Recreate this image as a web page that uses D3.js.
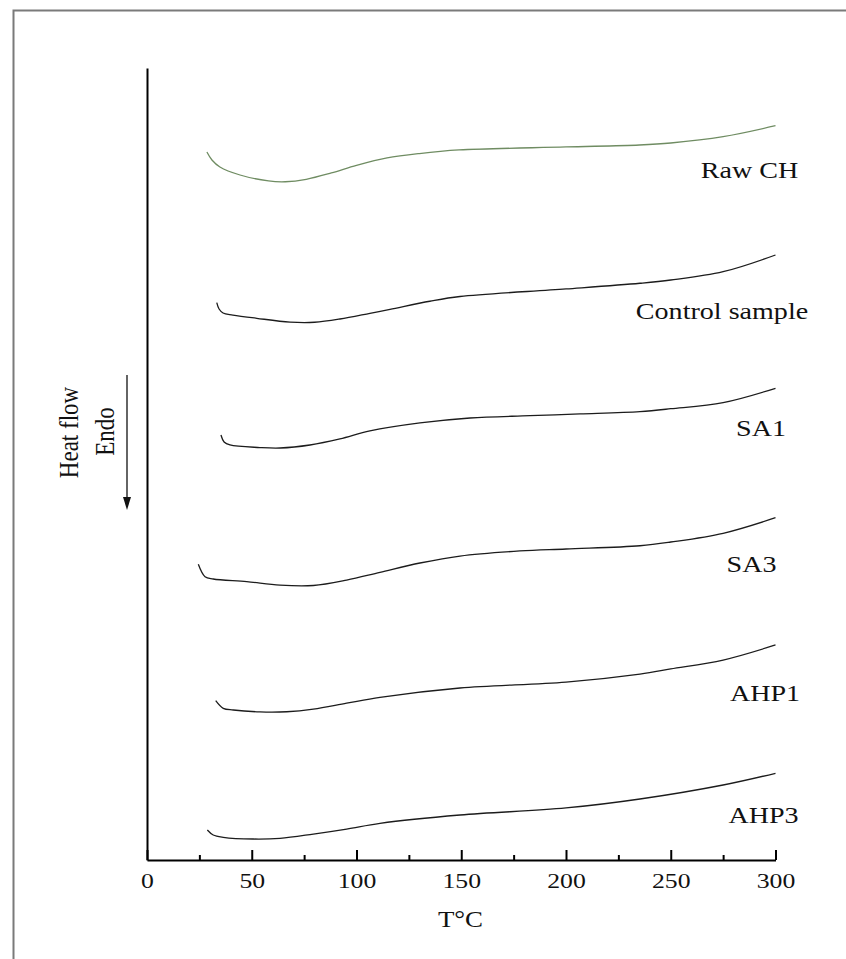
<!DOCTYPE html>
<html>
<head>
<meta charset="utf-8">
<script src="https://cdn.jsdelivr.net/npm/d3@7"></script>
<style>
  html, body { margin: 0; padding: 0; background: #fff; }
  svg { display: block; }
  text { font-family: "Liberation Serif", "Times New Roman", serif; fill: #111; }
</style>
</head>
<body>
<svg id="chart" width="846" height="959"></svg>
<script>
// ---------- data (temperature in °C, heat flow in arbitrary stacked units) ----------
const seriesNames = ["Raw CH", "Control sample", "SA1", "SA3", "AHP1", "AHP3"];

const rawCH_T = [28.6, 31, 34.8, 44.4, 58, 66, 76, 88, 100, 114.6, 130, 149, 200, 235, 250, 275, 300];
const rawCH_V = [89.39, 88.38, 87.50, 86.49, 85.74, 85.64, 85.95, 86.75, 87.70, 88.64, 89.20, 89.65, 90.03, 90.28, 90.53, 91.33, 92.71];

const control_T = [33.3, 34.4, 36.3, 41, 52.4, 68.3, 80, 92.1, 106.4, 116, 135, 149.4, 200, 235.3, 250, 275, 300];
const control_V = [70.37, 69.57, 69.07, 68.81, 68.40, 67.92, 67.90, 68.31, 69.03, 69.53, 70.55, 71.15, 72.10, 72.82, 73.23, 74.28, 76.39];

const sa1_T = [35.3, 36.8, 39.6, 53.9, 63.5, 77.8, 92.1, 106.4, 130.3, 154.2, 182.8, 206.7, 235.3, 250, 275, 300];
const sa1_V = [53.66, 52.78, 52.40, 52.08, 52.02, 52.40, 53.16, 54.17, 55.18, 55.81, 56.10, 56.32, 56.62, 56.98, 57.75, 59.56];

const sa3_T = [24.5, 27.7, 31.6, 47.6, 63.5, 79.4, 95.3, 111.2, 130.3, 149.4, 178, 200, 235.3, 250, 275, 300];
const sa3_V = [37.34, 35.77, 35.48, 35.14, 34.70, 34.66, 35.35, 36.33, 37.50, 38.38, 39.02, 39.27, 39.68, 40.15, 41.25, 43.22];

const ahp1_T = [32.8, 36.4, 41.2, 53.9, 66.7, 79.4, 95.3, 111.2, 149.4, 200, 235.3, 250, 275, 300];
const ahp1_V = [20.11, 19.15, 18.94, 18.70, 18.72, 19.05, 19.80, 20.54, 21.72, 22.47, 23.48, 24.12, 25.25, 27.15];

const ahp3_T = [28.8, 31.6, 36.4, 50.7, 63.5, 79.4, 95.3, 111.2, 149.4, 200, 235.3, 275, 300];
const ahp3_V = [3.79, 3.16, 2.87, 2.65, 2.74, 3.28, 3.91, 4.63, 5.68, 6.57, 7.70, 9.47, 10.95];

const xMajorTicks = [0, 50, 100, 150, 200, 250, 300];
const xMinorTicks = [25, 75, 125, 175, 225, 275];
const xTitle = "T°C";
const yTitle1 = "Heat flow";
const yTitle2 = "Endo";

// ---------- layout ----------
const svg = d3.select("#chart");
const plotLeft = 147, plotRight = 775.5, plotTop = 68, plotBottom = 860;
const SX = 1.17; // horizontal stretch of the original typography

const x = d3.scaleLinear().domain([0, 300]).range([plotLeft, plotRight]);
const y = d3.scaleLinear().domain([0, 100]).range([plotBottom, plotTop]);

const series = [
  { name: seriesNames[0], T: rawCH_T, V: rawCH_V, color: "#6f8c62", lx: 749.5, ly: 177.7 },
  { name: seriesNames[1], T: control_T, V: control_V, color: "#1c1c1c", lx: 722, ly: 319 },
  { name: seriesNames[2], T: sa1_T, V: sa1_V, color: "#1c1c1c", lx: 761, ly: 436 },
  { name: seriesNames[3], T: sa3_T, V: sa3_V, color: "#1c1c1c", lx: 751.5, ly: 571.7 },
  { name: seriesNames[4], T: ahp1_T, V: ahp1_V, color: "#1c1c1c", lx: 765, ly: 701 },
  { name: seriesNames[5], T: ahp3_T, V: ahp3_V, color: "#1c1c1c", lx: 763.5, ly: 823.3 }
];

// outer frame (only top and left edges visible)
svg.append("rect")
  .attr("x", 13.5).attr("y", 10.5)
  .attr("width", 1000).attr("height", 1000)
  .attr("fill", "none").attr("stroke", "#7a7a7a").attr("stroke-width", 2);

// curves
const line = d3.line()
  .x(d => x(d[0])).y(d => y(d[1]))
  .curve(d3.curveCatmullRom.alpha(0.5));

svg.append("g").selectAll("path")
  .data(series)
  .join("path")
  .attr("d", s => line(s.T.map((t, i) => [t, s.V[i]])))
  .attr("fill", "none")
  .attr("stroke", s => s.color)
  .attr("stroke-width", 1.3);

// curve labels
svg.append("g").selectAll("text")
  .data(series)
  .join("text")
  .attr("transform", s => `translate(${s.lx},${s.ly}) scale(${SX},1)`)
  .attr("text-anchor", "middle")
  .attr("font-size", 24)
  .text(s => s.name);

// x axis (ticks pointing inward)
const xAxis = svg.append("g").attr("transform", `translate(0,${plotBottom})`)
  .call(d3.axisBottom(x).tickValues(xMajorTicks).tickSizeInner(-10).tickSizeOuter(0).tickPadding(12.4));
xAxis.select(".domain").attr("stroke", "#000").attr("stroke-width", 2);
xAxis.selectAll(".tick line").attr("stroke", "#000").attr("stroke-width", 2);
xAxis.selectAll(".tick text")
  .attr("font-size", 22)
  .attr("font-family", "Liberation Serif, Times New Roman, serif")
  .attr("fill", "#111")
  .attr("transform", `scale(${SX},1)`);

const xMinor = svg.append("g").attr("transform", `translate(0,${plotBottom})`)
  .call(d3.axisBottom(x).tickValues(xMinorTicks).tickSizeInner(-5).tickSizeOuter(0).tickFormat(""));
xMinor.select(".domain").remove();
xMinor.selectAll(".tick line").attr("stroke", "#000").attr("stroke-width", 2);

// y axis (no ticks)
const yAxis = svg.append("g").attr("transform", `translate(${plotLeft},0)`)
  .call(d3.axisLeft(y).tickValues([]).tickSizeOuter(0));
yAxis.select(".domain").attr("stroke", "#000").attr("stroke-width", 2);

// x title
svg.append("text")
  .attr("transform", `translate(460.5,927) scale(${SX},1)`)
  .attr("text-anchor", "middle")
  .attr("font-size", 23)
  .text(xTitle);

// y titles (rotated)
svg.append("text")
  .attr("transform", `translate(78,432.5) scale(${SX},1) rotate(-90)`)
  .attr("text-anchor", "middle")
  .attr("font-size", 23)
  .text(yTitle1);
svg.append("text")
  .attr("transform", `translate(114,431.5) scale(${SX},1) rotate(-90)`)
  .attr("text-anchor", "middle")
  .attr("font-size", 23)
  .text(yTitle2);

// endo arrow
svg.append("line")
  .attr("x1", 127).attr("x2", 127).attr("y1", 375).attr("y2", 500)
  .attr("stroke", "#111").attr("stroke-width", 1.3);
svg.append("path")
  .attr("d", "M123,497 L131,497 L127,510 Z")
  .attr("fill", "#111");
</script>
</body>
</html>
